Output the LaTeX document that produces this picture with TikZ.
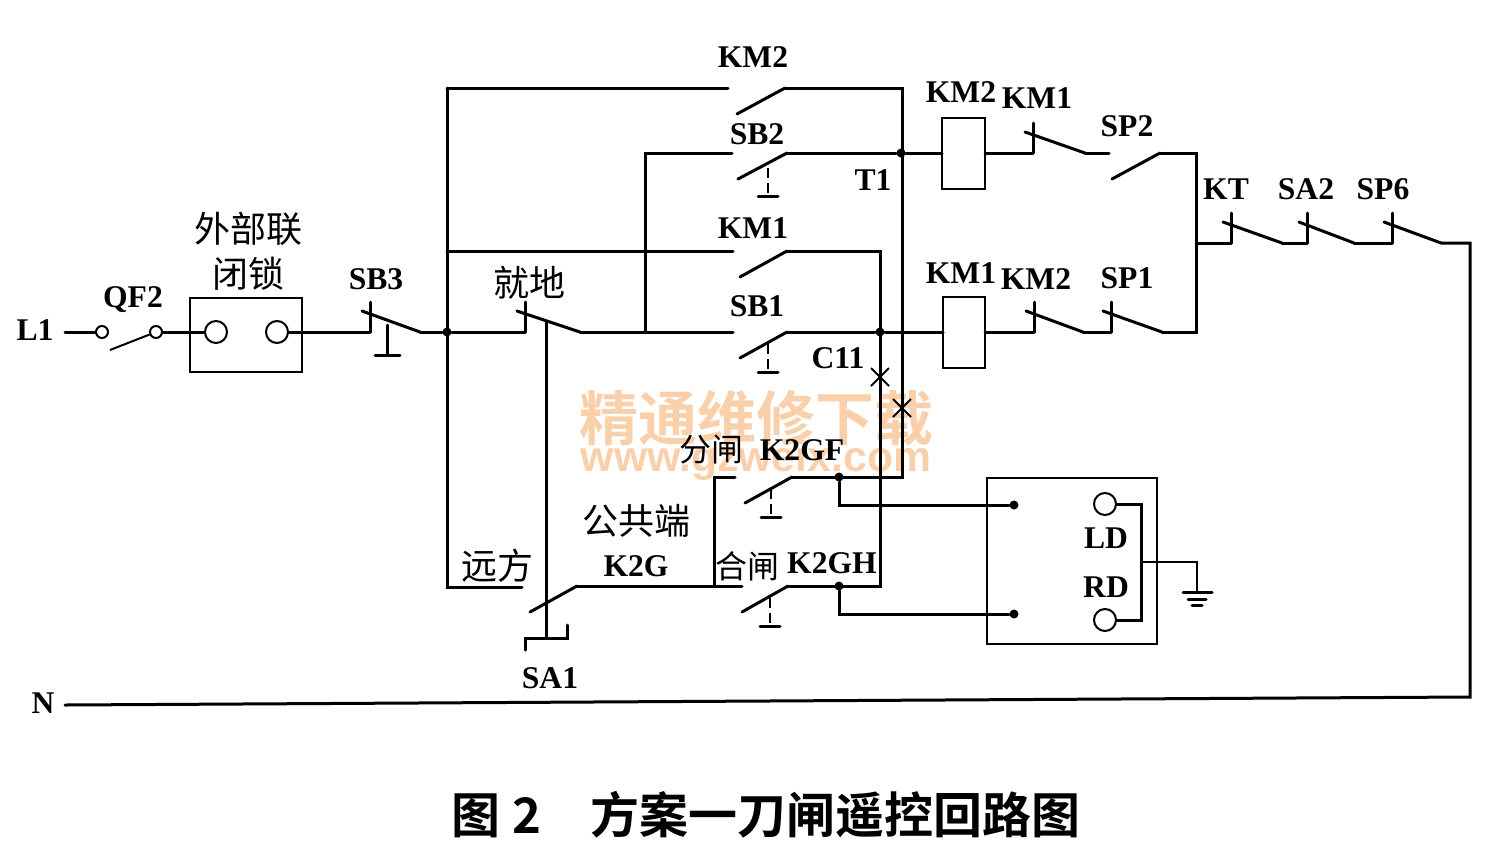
\documentclass[tikz,border=0pt]{standalone}
\usepackage{fontspec}
\setmainfont{Liberation Serif}
\newfontfamily\lblfont{Liberation Serif Bold}
\newfontfamily\cjkserif{Noto Sans CJK SC}
\newfontfamily\cjkbold{Noto Sans CJK SC Bold}
\newfontfamily\wmfont{Liberation Sans Bold}
\definecolor{wmorange}{RGB}{250,208,170}
\tikzset{
    wire/.style={line width=1.5pt, line cap=round, line join=miter},
    bareline/.style={line width=1pt},
    lbl/.style={font=\lblfont\fontsize{15.8}{18}\selectfont, inner sep=0pt},
    cnlbl/.style={font=\cjkserif\fontsize{18}{20}\selectfont, inner sep=0pt},
    cnsmall/.style={font=\cjkserif\fontsize{16}{18}\selectfont, inner sep=0pt},
    joint/.style={circle, fill=black, inner sep=0pt, minimum size=4.5pt},
    term/.style={circle, draw, line width=1pt, inner sep=0pt, fill=white},
    box/.style={draw, line width=1.3pt, inner sep=0pt, outer sep=0pt, anchor=north west},
}
\begin{document}
\begin{tikzpicture}[x=0.5pt, y=-0.5pt]
    \useasboundingbox (0,0) rectangle (1512,864);

    % Watermark
    \node[font=\cjkbold\fontsize{29.5}{31}\selectfont, text=wmorange, inner sep=0pt] (wmcn) at (756,418) {精通维修下载};
    \node[font=\wmfont\fontsize{21.4}{23}\selectfont, text=wmorange, inner sep=0pt] (wmen) at (756,461) {www.gzweix.com};

    % Texts
    \foreach \nm/\x/\y/\txt in {tL/35/330/L1, tQF/133/300/QF2, tSB3/376/279/SB3, tKMa/753/57/KM2,
        tSBb/757/134/SB2, tT/873/180/T1, tKMb/753/228/KM1, tSBa/757/306/SB1, tC/838/358/C11,
        tCoilb/961/92/KM2, tKMc/1037/98/KM1, tSPb/1127/126/SP2, tCoila/961/273/KM1, tKMd/1036/279/KM2,
        tSPa/1127/278/SP1, tKT/1226/189/KT, tSAb/1306/189/SA2, tSP/1383/189/SP6, tLD/1106/538/LD,
        tRD/1106/587/RD, tGF/802/450/K2GF, tGH/832/563/K2GH, tG/636/566/K2G, tSAa/550/678/SA1, tN/43/703/N} {
        \node[lbl] (\nm) at (\x,\y) {\txt};
    }
    \foreach \nm/\x/\y/\txt in {cWai/248/229/外部联, cBi/248/274/闭锁, cJiu/529/283/就地,
        cGong/636/521/公共端, cYuan/497/566/远方} {
        \node[cnlbl] (\nm) at (\x,\y) {\txt};
    }
    \node[cnsmall] (cFen) at (711,450) {分闸};
    \node[cnsmall] (cHe) at (747,566) {合闸};
    \node[font=\cjkbold\fontsize{24.5}{26}\selectfont, inner sep=0pt] (cap) at (766,815) {图 2\hspace{1em}方案一刀闸遥控回路图};

    % Junction points
    \foreach \nm/\x/\y in {jIn/447/332, jT/901/153, jC/880/332,
        jGF/839/477, jGH/839/586, jLD/1014/505, jRD/1014/614} {
        \node[joint] (\nm) at (\x,\y) {};
    }
    \coordinate (jKMb) at (447,251);
    \coordinate (jSBb) at (645,332);
    \coordinate (jBus) at (1196,243);
    \coordinate (cornerTL) at (447,88);
    \coordinate (cornerBL) at (447,587);
    \coordinate (endYuan) at (522,587);
    \coordinate (botT) at (902,477);
    \coordinate (botC) at (880,586);
    \coordinate (topBus) at (1196,153);
    \coordinate (botBus) at (1196,332);

    % Closed contacts: tick, blade and outgoing end
    \foreach \nm/\x/\y/\e in {cSB/370/332/420, cJD/525/332/580, cKMb/1033/153/1085, cKMa/1034/332/1083,
        cSPa/1111/332/1162, cKT/1231/243/1282, cSAb/1307/243/1354, cSP/1392/243/1441} {
        \coordinate (\nm) at (\x,\y);
        \coordinate (\nm e) at (\e,\y);
        \draw[wire] (\x,\y) -- (\x,\y-30);
        \draw[wire] (\x-8,\y-21) -- (\nm e);
    }

    % Open contacts: blade and two end points
    \foreach \nm/\x/\y/\xa/\e in {oKMa/737/88/728/785, oSBb/738/153/732/787, oKMb/740/251/733/787, oSBa/740/332/733/787,
        oSPb/1112/153/1109/1160, oGF/745/477/735/792, oGH/742/586/742/788, oK/530/586/522/577} {
        \coordinate (\nm a) at (\xa,\y);
        \coordinate (\nm b) at (\e,\y);
        \draw[wire] (\x,\y+26) -- (\nm b);
    }

    % Push button dashes
    \foreach \nm/\x/\y in {pSBb/768/168, pSBa/768/344, pGF/771/489, pGH/770/598} {
        \coordinate (\nm) at (\x,\y);
        \draw[bareline, dash pattern=on 5pt off 2.5pt] (\nm) -- ++(0,27);
        \draw[wire] (\x-10,\y+28) -- (\x+10,\y+28);
    }

    % QF2 and interlock box
    \node[term, minimum size=6pt] (qfA) at (102,332) {};
    \node[term, minimum size=6pt] (qfB) at (156,332) {};
    \coordinate (L) at (65,332);
    \draw[wire] (L) -- (qfA);
    \draw[bareline] (110,350) -- (qfB);
    \node[box, minimum width=56pt, minimum height=37pt] (lockbox) at (190,298) {};
    \node[term, minimum size=11pt] (lockA) at (216,332) {};
    \node[term, minimum size=11pt] (lockB) at (277,332) {};
    \draw[wire] (qfB) -- (lockA);
    \draw[wire] (lockB) -- (cSB);

    % SB3 button
    \draw[wire] (387,325) -- (387,355);
    \draw[wire] (375,355) -- (400,355);

    % Main feed
    \draw[wire] (cSBe) -- (jIn) -- (cJD);
    \draw[wire] (cornerTL) -- (cornerBL) -- (endYuan);
    \draw[wire] (cornerTL) -- (oKMaa);
    \draw[wire] (jKMb) -- (oKMba);
    \draw[wire] (cJDe) -- (jSBb) -- (oSBaa);
    \draw[wire] (jSBb) |- (oSBba);

    % Contact outputs to the coils
    \node[box, minimum width=21.5pt, minimum height=35.5pt] (coilb) at (942,118) {};
    \node[box, minimum width=21pt, minimum height=35.5pt] (coila) at (943,297) {};
    \draw[wire] (oKMab) -- (902,88) -- (botT) -- (oGFb);
    \draw[wire] (oSBbb) -- (jT) -- (coilb.west |- jT);
    \draw[wire] (oKMbb) -- (880,251) -- (botC) -- (oGHb);
    \draw[wire] (oSBab) -- (jC) -- (coila.west |- jC);
    \draw[wire] (coilb.east |- jT) -- (cKMb);
    \draw[wire] (coila.east |- jC) -- (cKMa);

    % Right branches
    \draw[wire] (cKMbe) -- (oSPba);
    \draw[wire] (oSPbb) -- (topBus) -- (botBus) -- (cSPae);
    \draw[wire] (cKMae) -- (cSPa);
    \draw[wire] (jBus) -- (cKT);
    \draw[wire] (cKTe) -- (cSAb);
    \draw[wire] (cSAbe) -- (cSP);
    \coordinate (N) at (65,705);
    \draw[wire] (cSPe) -- (1470,243) -- (1470,697) -- (N);

    % Crossing marks
    \foreach \nm/\x/\y in {xC/880/377, xT/902/408} {
        \coordinate (\nm) at (\x,\y);
        \draw[bareline] (\x-9,\y-9) -- (\x+9,\y+9);
        \draw[bareline] (\x-9,\y+9) -- (\x+9,\y-9);
    }

    % Selector SA1
    \coordinate (saTop) at (546,322);
    \draw[wire] (saTop) -- (546,638);
    \draw[wire] (525,650) -- (525,638) -- (567,638) -- (567,625);

    % K2G and lower contacts
    \draw[wire] (oKb) -- (oGHa);
    \draw[wire] (714,586) -- (714,477) -- (oGFa);

    % Signal box
    \node[box, minimum width=85pt, minimum height=83pt] (sigbox) at (987,478) {};
    \node[term, minimum size=11pt] (lampL) at (1105,504) {};
    \node[term, minimum size=11pt] (lampR) at (1105,620) {};
    \coordinate (lampbus) at (1141,562);
    \draw[wire] (lampL) -- (1141,504) -- (1141,620) -- (lampR);
    \draw[wire] (jGF) -- (839,505) -- (jLD);
    \draw[wire] (jGH) -- (839,614) -- (jRD);

    % Ground
    \coordinate (gnd) at (1197,592);
    \draw[bareline] (lampbus) -| (gnd);
    \draw[wire] (1183,592) -- (1212,592);
    \draw[wire] (1188,599) -- (1206,599);
    \draw[wire] (1192,605) -- (1202,605);
\end{tikzpicture}
\end{document}
